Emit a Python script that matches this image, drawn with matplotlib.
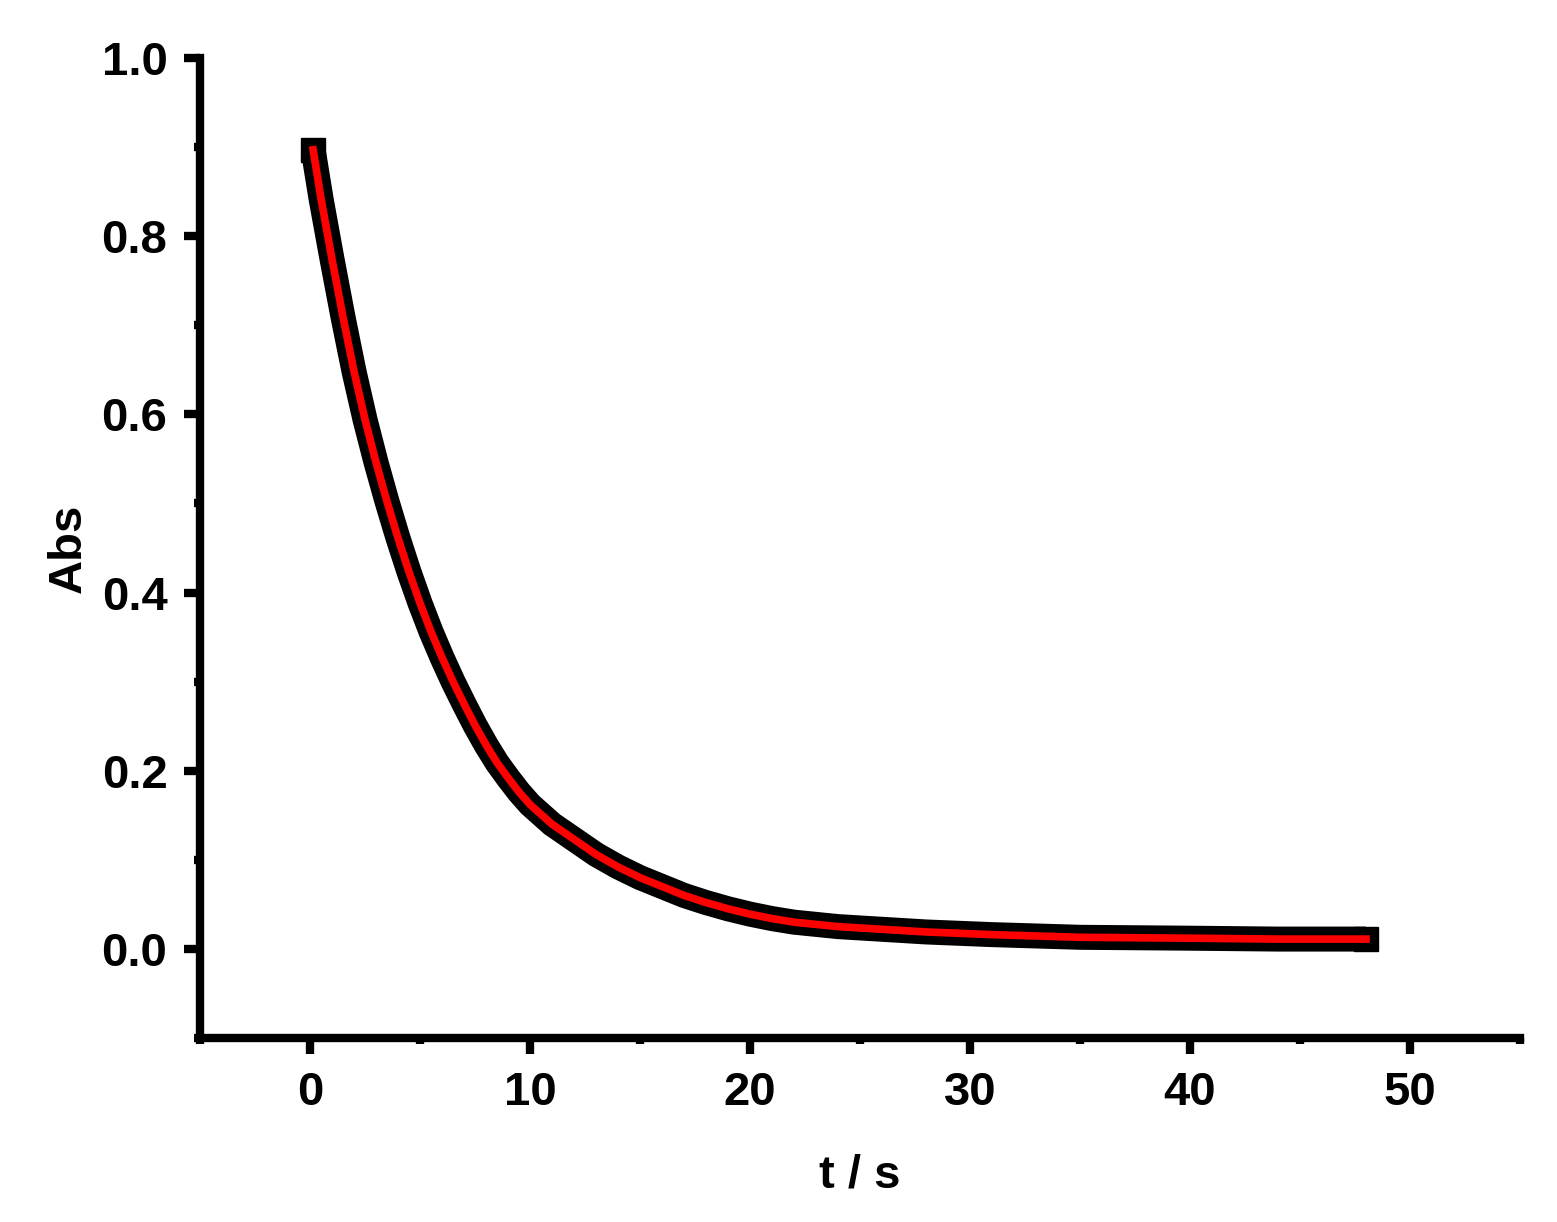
import matplotlib
matplotlib.use("Agg")
import matplotlib.pyplot as plt
from matplotlib.ticker import MultipleLocator

# values (t in s, absorbance)
t = [0.14, 0.5, 1.0, 1.5, 2.0, 2.5, 3.0, 3.5, 4.0, 4.5, 5.0, 5.5, 6.0, 6.5,
     7.0, 7.5, 8.0, 8.5, 9.0, 9.5, 10.0, 11.0, 12.0, 13.0, 14.0, 15.0, 16.0,
     17.0, 18.0, 19.0, 20.0, 21.0, 22.0, 24.0, 26.0, 28.0, 31.0, 35.0, 40.0,
     44.0, 48.0]
absorb = [0.897, 0.842, 0.774, 0.709, 0.648, 0.594, 0.546, 0.502, 0.461, 0.423,
          0.388, 0.356, 0.327, 0.300, 0.275, 0.251, 0.229, 0.209, 0.192, 0.176,
          0.162, 0.140, 0.123, 0.106, 0.092, 0.080, 0.070, 0.060, 0.052, 0.045,
          0.039, 0.034, 0.030, 0.025, 0.022, 0.019, 0.016, 0.013, 0.012, 0.011,
          0.011]
fit = absorb

plt.rcParams['font.family'] = ['Liberation Sans', 'DejaVu Sans']
plt.rcParams['font.weight'] = 'bold'

fig = plt.figure(figsize=(15.57, 12.22), dpi=100)
ax = fig.add_axes([0.1285, 0.1506, 0.9762 - 0.1285, 0.9525 - 0.1506])

# measured points (dense black squares) and fitted curve (red)
ax.plot(t, absorb, color='black', lw=18, marker='s', ms=17,
        markevery=[0, len(t) - 1], solid_joinstyle='round',
        solid_capstyle='butt', zorder=2)
ax.plot(t, fit, color='red', lw=5.5, solid_joinstyle='round', zorder=3)

ax.set_xlim(-5, 55)
ax.set_ylim(-0.1, 1.0)
ax.xaxis.set_minor_locator(MultipleLocator(5))
ax.yaxis.set_minor_locator(MultipleLocator(0.1))
ax.set_xticks([0, 10, 20, 30, 40, 50])
ax.set_yticks([0.0, 0.2, 0.4, 0.6, 0.8, 1.0])
ax.set_yticklabels(['0.0', '0.2', '0.4', '0.6', '0.8', '1.0'])

for s in ['top', 'right']:
    ax.spines[s].set_visible(False)
for s in ['left', 'bottom']:
    ax.spines[s].set_linewidth(6)

ax.tick_params(which='major', direction='out', length=11.5, width=6,
               labelsize=34, pad=12)
ax.tick_params(which='minor', direction='out', length=4, width=6)

ax.set_xlabel('t / s', fontsize=34, fontweight='bold', labelpad=28)
ax.set_ylabel('Abs', fontsize=34, fontweight='bold', labelpad=8)

fig.savefig('out.png', dpi=100)
